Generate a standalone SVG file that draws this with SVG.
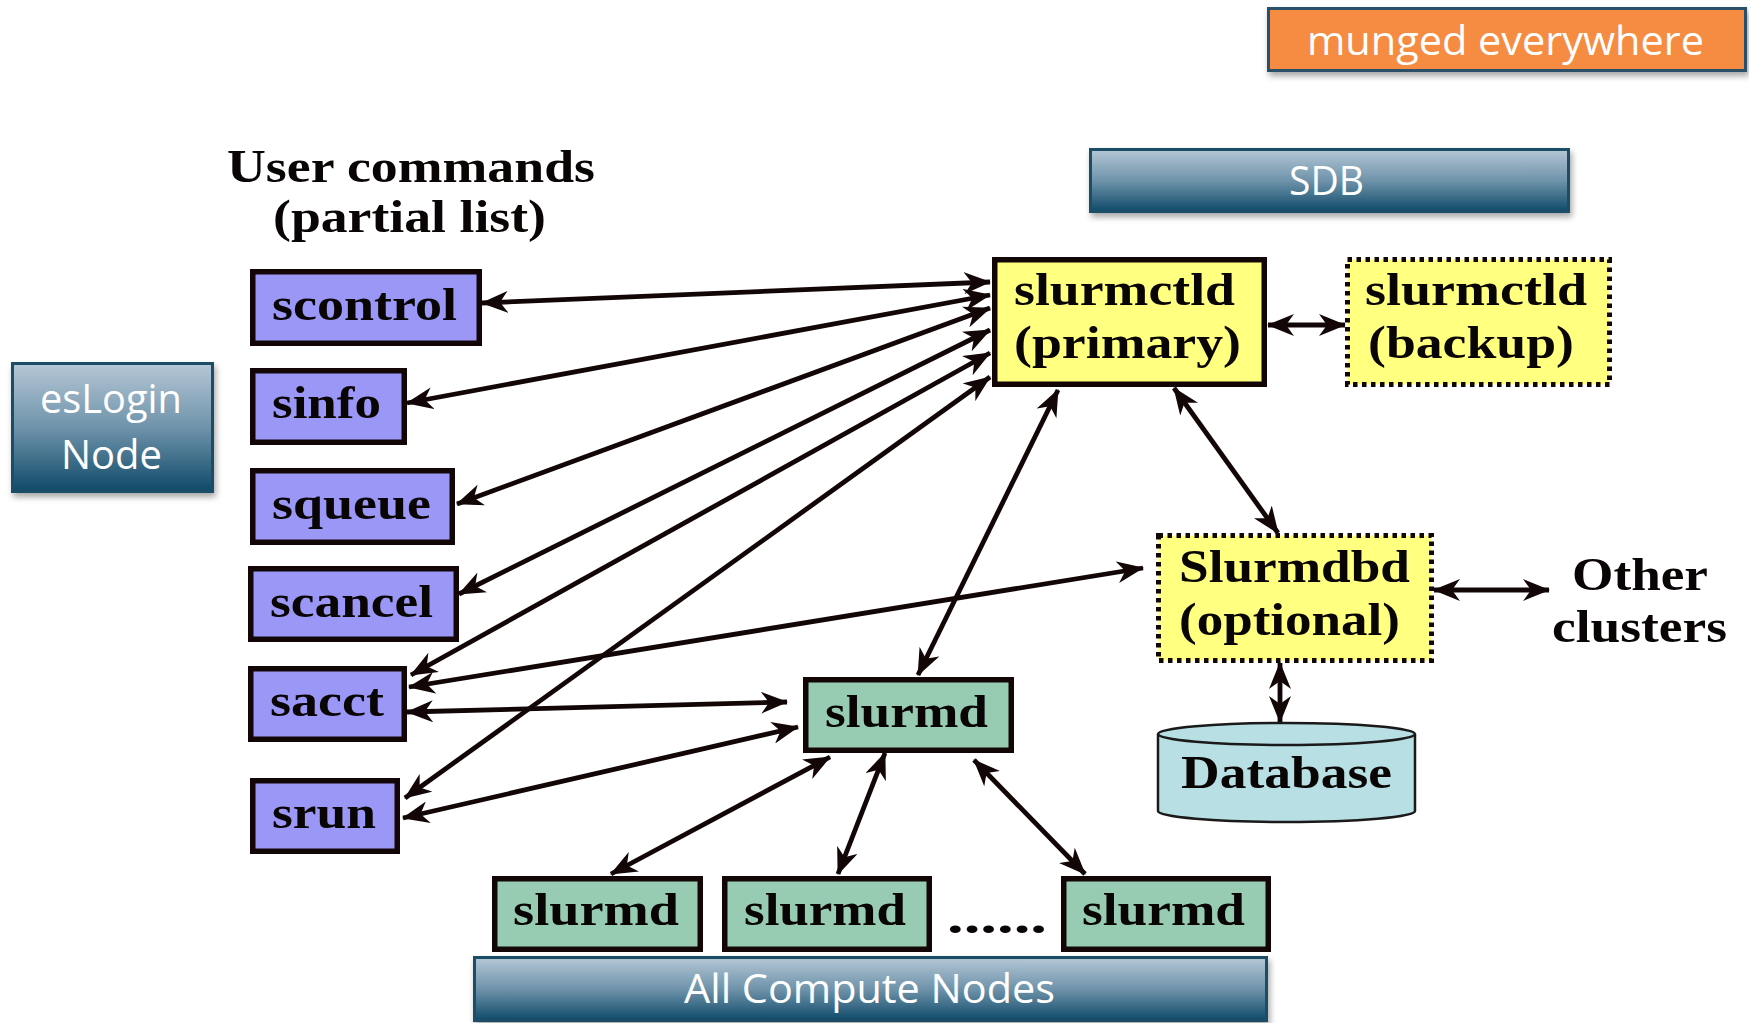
<svg xmlns="http://www.w3.org/2000/svg" width="1749" height="1023" viewBox="0 0 1749 1023">
<defs>
<linearGradient id="blueGrad" x1="0" y1="0" x2="0" y2="1">
<stop offset="0" stop-color="#b5c7d6"/>
<stop offset="0.5" stop-color="#6f93aa"/>
<stop offset="1" stop-color="#0f4a69"/>
</linearGradient>
<filter id="shadow" x="-10%" y="-20%" width="120%" height="150%">
<feDropShadow dx="2" dy="4" stdDeviation="3" flood-color="#000" flood-opacity="0.35"/>
</filter>
<marker id="arr" viewBox="0 0 27 22" refX="26" refY="11" markerWidth="27" markerHeight="22" markerUnits="userSpaceOnUse" orient="auto-start-reverse">
<path d="M0,0 L27,11 L0,22 L8,11 Z" fill="#120606"/>
</marker>
</defs>
<style>
.cmd{fill:#9b97f7;stroke:#120606;stroke-width:5.5}
.ctl{fill:#ffff80;stroke:#120606;stroke-width:5.5}
.dot{fill:#ffff80;stroke:#120606;stroke-width:5;stroke-dasharray:4.5 4.5}
.md{fill:#98ccb2;stroke:#120606;stroke-width:5.5}
.grad{fill:url(#blueGrad);stroke:#1c4e66;stroke-width:3;filter:url(#shadow)}
.serif{font-family:"Liberation Serif","Times New Roman",serif;font-weight:bold;font-size:47px;fill:#0a0505}
.sans{font-family:"Open Sans","Noto Sans",sans-serif;font-size:41px;fill:#ffffff}
.conn line{stroke:#120606;stroke-width:4.8;marker-start:url(#arr);marker-end:url(#arr)}
</style>

<g id="munged">
<rect x="1268.5" y="8.5" width="477" height="62" fill="#f58c42" stroke="#2a5068" stroke-width="3" filter="url(#shadow)"/>
<text class="sans" x="1307" y="55" textLength="397" lengthAdjust="spacingAndGlyphs">munged everywhere</text>
</g>

<g id="sdb">
<rect class="grad" x="1090.5" y="149.5" width="478" height="62"/>
<text class="sans" x="1289" y="195" textLength="75" lengthAdjust="spacingAndGlyphs">SDB</text>
</g>

<g id="title">
<text class="serif" x="227" y="182" textLength="368" lengthAdjust="spacingAndGlyphs">User commands</text>
<text class="serif" x="273" y="232" textLength="273" lengthAdjust="spacingAndGlyphs">(partial list)</text>
</g>

<g id="eslogin">
<rect class="grad" x="12.5" y="363.5" width="200" height="128"/>
<text class="sans" x="40" y="413" textLength="142" lengthAdjust="spacingAndGlyphs">esLogin</text>
<text class="sans" x="61" y="469" textLength="101" lengthAdjust="spacingAndGlyphs">Node</text>
</g>

<g id="scontrol">
<rect class="cmd" x="252.75" y="271.75" width="226.5" height="71.5"/>
<text class="serif" x="272" y="320" textLength="185" lengthAdjust="spacingAndGlyphs">scontrol</text>
</g>
<g id="sinfo">
<rect class="cmd" x="252.75" y="370.75" width="151.5" height="71.5"/>
<text class="serif" x="272" y="418" textLength="109" lengthAdjust="spacingAndGlyphs">sinfo</text>
</g>
<g id="squeue">
<rect class="cmd" x="252.75" y="470.75" width="199.5" height="71.5"/>
<text class="serif" x="272" y="519" textLength="159" lengthAdjust="spacingAndGlyphs">squeue</text>
</g>
<g id="scancel">
<rect class="cmd" x="250.75" y="568.75" width="205.5" height="70.5"/>
<text class="serif" x="270" y="617" textLength="163" lengthAdjust="spacingAndGlyphs">scancel</text>
</g>
<g id="sacct">
<rect class="cmd" x="250.75" y="668.75" width="153.5" height="70.5"/>
<text class="serif" x="270" y="716" textLength="114" lengthAdjust="spacingAndGlyphs">sacct</text>
</g>
<g id="srun">
<rect class="cmd" x="252.75" y="780.75" width="144.5" height="70.5"/>
<text class="serif" x="272" y="828" textLength="104" lengthAdjust="spacingAndGlyphs">srun</text>
</g>

<g id="slurmctld-primary">
<rect class="ctl" x="994.75" y="259.75" width="269.5" height="124.5"/>
<text class="serif" x="1014" y="305" textLength="221" lengthAdjust="spacingAndGlyphs">slurmctld</text>
<text class="serif" x="1014" y="358" textLength="227" lengthAdjust="spacingAndGlyphs">(primary)</text>
</g>
<g id="slurmctld-backup">
<rect class="dot" x="1347.5" y="259.5" width="262" height="125"/>
<text class="serif" x="1365" y="305" textLength="222" lengthAdjust="spacingAndGlyphs">slurmctld</text>
<text class="serif" x="1368" y="358" textLength="206" lengthAdjust="spacingAndGlyphs">(backup)</text>
</g>
<g id="slurmdbd">
<rect class="dot" x="1158.5" y="535.5" width="273" height="125"/>
<text class="serif" x="1179" y="582" textLength="231" lengthAdjust="spacingAndGlyphs">Slurmdbd</text>
<text class="serif" x="1179" y="635" textLength="221" lengthAdjust="spacingAndGlyphs">(optional)</text>
</g>
<g id="other-clusters">
<text class="serif" x="1572" y="590" textLength="136" lengthAdjust="spacingAndGlyphs">Other</text>
<text class="serif" x="1552" y="642" textLength="175" lengthAdjust="spacingAndGlyphs">clusters</text>
</g>
<g id="database">
<path d="M1158,734 A128.5,11 0 0 1 1415,734 L1415,811 A128.5,11 0 0 1 1158,811 Z" fill="#b8dfe4" stroke="#1a1a1a" stroke-width="2.5"/>
<path d="M1158,734 A128.5,11 0 0 0 1415,734" fill="none" stroke="#1a1a1a" stroke-width="2.5"/>
<text class="serif" x="1181" y="788" textLength="211" lengthAdjust="spacingAndGlyphs">Database</text>
</g>

<g id="slurmd-main">
<rect class="md" x="805.75" y="679.75" width="205.5" height="70.5"/>
<text class="serif" x="825" y="727" textLength="163" lengthAdjust="spacingAndGlyphs">slurmd</text>
</g>
<g id="slurmd-1">
<rect class="md" x="494.75" y="878.75" width="205.5" height="70.5"/>
<text class="serif" x="513" y="925" textLength="166" lengthAdjust="spacingAndGlyphs">slurmd</text>
</g>
<g id="slurmd-2">
<rect class="md" x="724.75" y="878.75" width="204.5" height="70.5"/>
<text class="serif" x="744" y="925" textLength="162" lengthAdjust="spacingAndGlyphs">slurmd</text>
</g>
<g id="dots">
<text class="serif" x="947" y="933" textLength="100" lengthAdjust="spacingAndGlyphs">......</text>
</g>
<g id="slurmd-3">
<rect class="md" x="1063.75" y="878.75" width="204.5" height="70.5"/>
<text class="serif" x="1082" y="925" textLength="163" lengthAdjust="spacingAndGlyphs">slurmd</text>
</g>

<g id="all-compute-nodes">
<rect class="grad" x="474.5" y="957.5" width="792" height="63"/>
<text class="sans" x="684" y="1003" textLength="371" lengthAdjust="spacingAndGlyphs">All Compute Nodes</text>
</g>

<g id="connectors" class="conn">
<line x1="482" y1="303" x2="990" y2="282"/>
<line x1="407" y1="403" x2="990" y2="295"/>
<line x1="457" y1="504" x2="990" y2="308"/>
<line x1="459" y1="594" x2="990" y2="330"/>
<line x1="411" y1="675" x2="990" y2="353"/>
<line x1="405" y1="798" x2="990" y2="377"/>
<line x1="409" y1="687" x2="1143" y2="568"/>
<line x1="407" y1="712" x2="787" y2="702"/>
<line x1="403" y1="818" x2="798" y2="727"/>
<line x1="1058" y1="390" x2="918" y2="675"/>
<line x1="1174" y1="388" x2="1278" y2="533"/>
<line x1="1268" y1="325" x2="1345" y2="325"/>
<line x1="1434" y1="590" x2="1549" y2="590"/>
<line x1="1280" y1="663" x2="1280" y2="722"/>
<line x1="611" y1="874" x2="830" y2="757"/>
<line x1="838" y1="874" x2="885" y2="753"/>
<line x1="1085" y1="874" x2="974" y2="760"/>
</g>
</svg>
